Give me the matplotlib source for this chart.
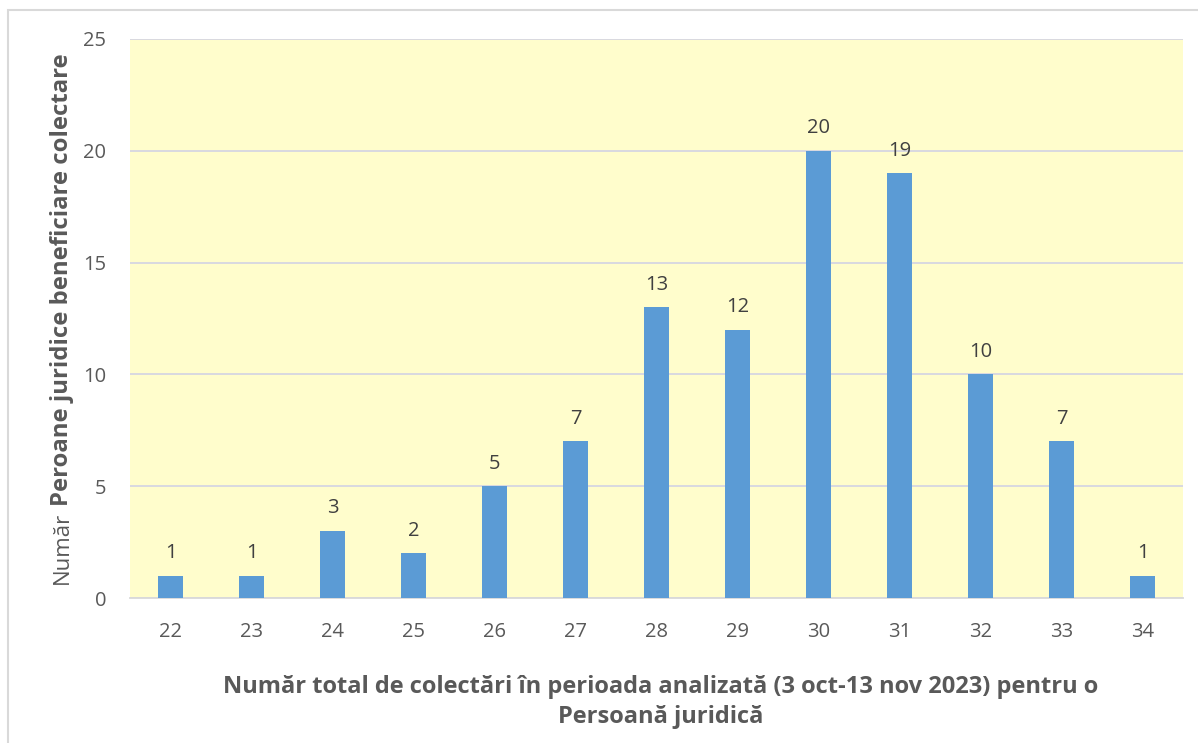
import matplotlib.pyplot as plt
from matplotlib.patches import Rectangle

categorii = ["22", "23", "24", "25", "26", "27", "28", "29", "30", "31", "32", "33", "34"]
valori = [1, 1, 3, 2, 5, 7, 13, 12, 20, 19, 10, 7, 1]
y_ticks = [0, 5, 10, 15, 20, 25]

plt.rcParams['font.family'] = ['Open Sans', 'DejaVu Sans']

fig = plt.figure(figsize=(11.98, 7.43), dpi=100)
ax = fig.add_axes([130 / 1198, 1 - 598 / 743, (1183 - 130) / 1198, (598 - 39) / 743])
ax.set_facecolor('#FFFDCC')

# chenarul exterior al graficului
fig.patches.append(Rectangle((8 / 1198, -0.01), 1.1, 1 - 10 / 743 + 0.01,
                             transform=fig.transFigure, fill=False,
                             edgecolor='#D9D9D9', linewidth=1.5))

x = range(len(categorii))
bars = ax.bar(x, valori, width=0.317, color='#5B9BD5', zorder=3)
for b, v in zip(bars, valori):
    ax.annotate(str(v), (b.get_x() + b.get_width() / 2, v), xytext=(0, 9),
                textcoords='offset points', ha='center', va='bottom',
                fontsize=14.5, color='#404040')

ax.set_xlim(-0.5, len(categorii) - 0.5)
ax.set_ylim(0, 25)
ax.set_yticks(y_ticks)
ax.set_xticks(list(x))
ax.set_xticklabels(categorii)
ax.yaxis.grid(True, color='#D6D6E2', linewidth=1.3, zorder=0)
ax.tick_params(axis='both', length=0, labelsize=14.5, colors='#595959')
ax.tick_params(axis='y', pad=17)
ax.tick_params(axis='x', pad=17)
for s in ['top', 'right', 'left']:
    ax.spines[s].set_visible(False)
ax.spines['bottom'].set_color('#D9D9D9')
ax.spines['bottom'].set_linewidth(1.3)

fig.text(62 / 1198, 1 - 584 / 743, "Număr", rotation=90, ha='center', va='bottom',
         fontsize=16, color='#595959')
fig.text(62 / 1198, 1 - 506 / 743, "Peroane juridice beneficiare colectare", rotation=90,
         ha='center', va='bottom', fontsize=17.2, color='#595959', fontweight='bold')

fig.text(661 / 1198, 1 - 702 / 743,
         "Număr total de colectări în perioada analizată (3 oct-13 nov 2023) pentru o\nPersoană juridică",
         ha='center', va='center', fontsize=17, fontweight='bold', color='#595959',
         linespacing=1.3)

fig.savefig("out.png", dpi=100)
plt.close()
